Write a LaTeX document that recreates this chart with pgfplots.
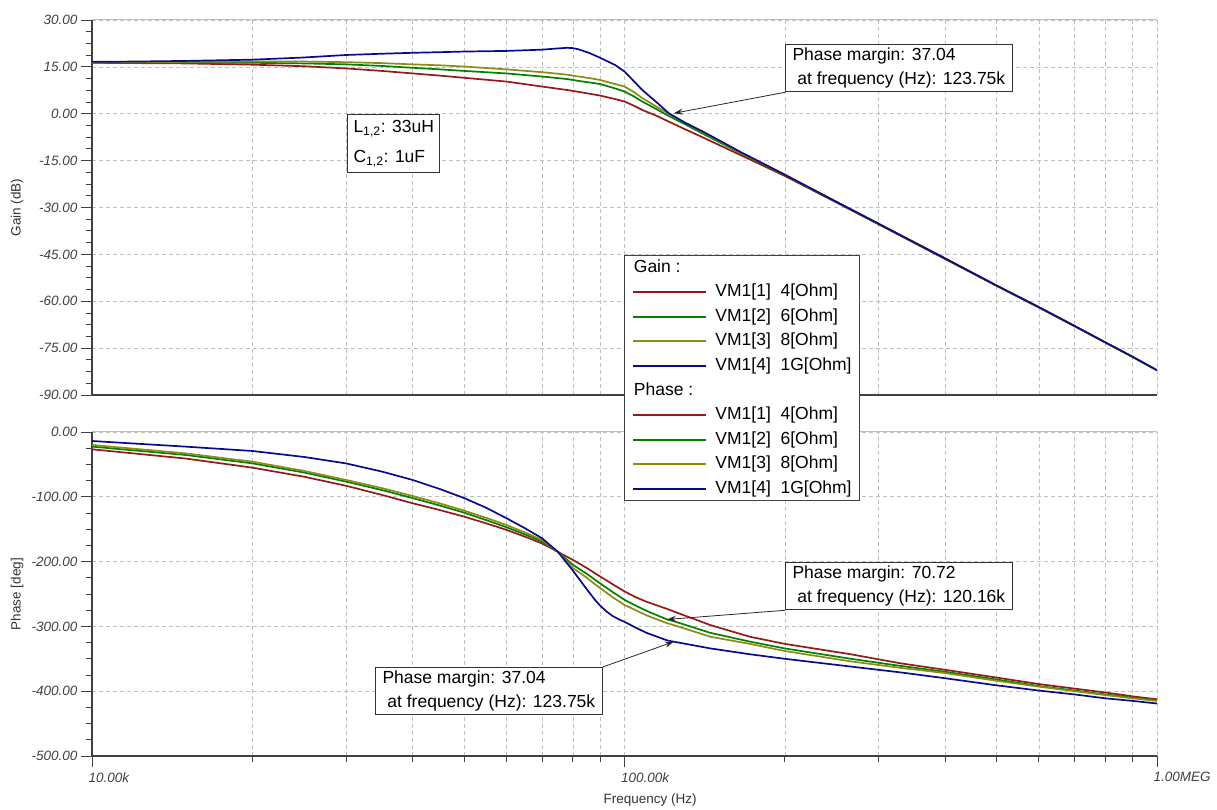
\documentclass[border=0pt]{standalone}
\usepackage{pgfplots}
\pgfplotsset{compat=1.18}
\usepackage{pgfplotstable}
\usepackage{fontspec}
\setmainfont{Liberation Sans}
\usetikzlibrary{arrows.meta}

\definecolor{cred}{RGB}{150,25,25}
\definecolor{cgreen}{RGB}{0,130,0}
\definecolor{colive}{RGB}{140,140,20}
\definecolor{cblue}{RGB}{10,10,140}

\pgfplotstableread{
f r g o b
10000 16.3 16.3 16.4 16.6
12000 16.2 16.3 16.5 16.7
15000 16.1 16.3 16.6 16.9
20000 15.7 16.3 16.7 17.3
25000 15.2 16.1 16.7 18.0
30000 14.5 15.8 16.5 18.8
35000 13.7 15.3 16.2 19.2
40000 12.9 14.7 15.8 19.5
45000 12.2 14.2 15.5 19.7
50000 11.5 13.7 15.1 19.9
60000 10.3 12.9 14.2 20.1
70000 8.7 11.9 13.3 20.5
75000 8.0 11.4 12.8 20.9
78000 7.6 11.1 12.5 21.1
80000 7.3 10.8 12.2 21.0
82000 7.0 10.5 11.9 20.6
86000 6.4 10.0 11.4 19.4
90000 5.8 9.5 10.8 17.9
96000 4.7 8.1 9.5 15.6
100000 3.9 7.1 8.7 13.5
104000 2.6 5.6 7.0 10.5
108000 1.2 3.9 5.0 7.6
115000 -0.7 1.4 2.2 3.6
121000 -2.5 -0.7 0.0 0.2
130000 -5.0 -3.4 -2.9 -2.9
140000 -7.5 -6.3 -5.8 -5.6
165000 -13.2 -12.6 -12.4 -12.2
200000 -19.9 -19.6 -19.5 -19.5
250000 -28.4 -28.2 -28.2 -28.2
300000 -35.4 -35.2 -35.2 -35.2
400000 -46.5 -46.3 -46.3 -46.3
500000 -55.1 -55.0 -55.0 -55.0
600000 -62.0 -61.9 -61.9 -61.9
700000 -68.0 -67.9 -67.9 -67.9
800000 -73.2 -73.2 -73.2 -73.2
900000 -77.8 -77.8 -77.8 -77.8
1000000 -82.1 -82.1 -82.1 -82.1
}\gaintab

\pgfplotstableread{
f r g o b
10000 -26.7 -22.6 -20.0 -13.9
15000 -41 -35.5 -33 -22.6
20000 -55 -48.4 -45.8 -29.3
25000 -69 -62.5 -60 -38.5
30000 -83 -76.6 -74 -48.5
35000 -97 -89.5 -86.5 -61
40000 -110 -102 -98.8 -74
45000 -120.5 -113.5 -110.2 -88
50000 -130.7 -124.5 -121.4 -102
55000 -141 -136 -132.5 -117
60000 -151 -147 -143.5 -133
65000 -161.5 -158 -155 -148.5
70000 -172 -169 -166.7 -164
75000 -185 -185 -185 -185
80000 -197.5 -205 -210 -214
85000 -210 -219 -225 -243
88000 -218 -228 -235 -259
90000 -223 -233.6 -241 -268
92500 -229 -240.5 -248 -277
95000 -235 -247 -255 -284
97500 -240.5 -253 -261 -289
100000 -246 -259 -267 -293
105000 -255 -268 -275 -302
110000 -262 -276 -283 -310
120160 -273 -289.3 -295 -321.5
123750 -277 -292 -298 -323.6
145000 -298 -310 -316 -334
172000 -316 -323.5 -327 -343
200000 -327 -334 -338 -350
266000 -343 -350 -354 -362
330000 -357 -361 -364 -371
400000 -367 -370 -372 -380
500000 -379 -382 -384 -391
600000 -389 -392 -393 -399
700000 -396 -399 -400 -405
800000 -402 -405 -406 -411
900000 -408 -410 -411 -415
1000000 -412.5 -414 -415 -419
}\phasetab

\begin{document}
\begin{tikzpicture}
\useasboundingbox (0pt,0pt) rectangle (1217pt,810pt);

% ---------------- Gain ----------------
\begin{axis}[
  scale only axis, width=1065pt, height=375pt,
  at={(92pt,415pt)}, anchor=south west,
  xmode=log, xmin=10000, xmax=1000000,
  axis x line=bottom, axis y line=left,
  axis line style={-, draw=black!75, line width=1.1pt},
  tick align=outside, major tick length=11pt, minor tick length=6pt,
  tick style={black!75, line width=0.9pt},
  major x tick style={draw=none}, minor x tick style={draw=none},
  xmajorgrids, xminorgrids, ymajorgrids,
  grid style={black!25, line width=0.6pt, dash pattern=on 4pt off 3pt},
  minor y tick num=3,
  tick label style={font=\fontsize{13.5}{16}\selectfont\itshape, text=black!75},
  label style={font=\fontsize{13.5}{16}\selectfont, text=black!80},
  ylabel style={at={(axis description cs:-0.0704,0.5)}, anchor=center},
  ymin=-90, ymax=30, ytick={-90,-75,...,30},
  yticklabels={-90.00,-75.00,-60.00,-45.00,-30.00,-15.00,0.00,15.00,30.00},
  xticklabels={},
  ylabel={Gain (dB)}]
\addplot[cred, line width=1.7pt]   table[x=f,y=r]{\gaintab};
\addplot[cgreen, line width=1.7pt] table[x=f,y=g]{\gaintab};
\addplot[colive, line width=1.7pt] table[x=f,y=o]{\gaintab};
\addplot[cblue, line width=1.7pt]  table[x=f,y=b]{\gaintab};
\draw[black!25, line width=1pt] (rel axis cs:0,1) -- (rel axis cs:1,1) -- (rel axis cs:1,0);
\coordinate (pmA) at (axis cs:123750,0.14);
\end{axis}

% ---------------- Phase ----------------
\begin{axis}[
  scale only axis, width=1065pt, height=324pt,
  at={(92pt,54pt)}, anchor=south west,
  xmode=log, xmin=10000, xmax=1000000,
  axis x line=bottom, axis y line=left,
  axis line style={-, draw=black!75, line width=1.1pt},
  tick align=outside, major tick length=11pt, minor tick length=6pt,
  tick style={black!75, line width=0.9pt},
  xmajorgrids, xminorgrids, ymajorgrids,
  grid style={black!25, line width=0.6pt, dash pattern=on 4pt off 3pt},
  minor y tick num=3,
  tick label style={font=\fontsize{13.5}{16}\selectfont\itshape, text=black!75},
  label style={font=\fontsize{13.5}{16}\selectfont, text=black!80},
  ylabel style={at={(axis description cs:-0.0704,0.5)}, anchor=center},
  ymin=-500, ymax=0, ytick={-500,-400,...,0},
  yticklabels={-500.00,-400.00,-300.00,-200.00,-100.00,0.00},
  xtick={10000,100000,1000000}, xticklabels={10.00k,100.00k,1.00MEG},
  xticklabel style={anchor=north west, xshift=-7pt, yshift=-2pt},
  xlabel={Frequency (Hz)},
  xlabel style={at={(axis description cs:0.524,0)}, anchor=center, yshift=-44pt},
  ylabel={Phase [deg]},
  legend image code/.code={\draw[#1, solid, line width=2pt] (0pt,0pt) -- (73pt,0pt);},
  legend style={at={(rel axis cs:0.4995,1.546)}, anchor=north west,
    draw=black!75, line width=0.9pt, fill=white,
    font=\fontsize{17.5}{20}\selectfont,
    inner xsep=8pt, inner ysep=3.5pt, column sep=8pt, row sep=7.6pt,
    nodes={inner sep=0pt, text height=13pt, text depth=4pt, anchor=west}},
  legend cell align=left]
\addlegendimage{legend image code/.code={\node[anchor=west,inner sep=0pt,font=\fontsize{17.5}{20}\selectfont] at (0pt,0pt) {Gain :};}}
\addlegendentry{}
\addlegendimage{cred}\addlegendentry{VM1[1]~~4[Ohm]}
\addlegendimage{cgreen}\addlegendentry{VM1[2]~~6[Ohm]}
\addlegendimage{colive}\addlegendentry{VM1[3]~~8[Ohm]}
\addlegendimage{cblue}\addlegendentry{VM1[4]~~1G[Ohm]}
\addlegendimage{legend image code/.code={\node[anchor=west,inner sep=0pt,font=\fontsize{17.5}{20}\selectfont] at (0pt,0pt) {Phase :};}}
\addlegendentry{}
\addplot[cred, line width=1.7pt]   table[x=f,y=r]{\phasetab}; \addlegendentry{VM1[1]~~4[Ohm]}
\addplot[cgreen, line width=1.7pt] table[x=f,y=g]{\phasetab}; \addlegendentry{VM1[2]~~6[Ohm]}
\addplot[colive, line width=1.7pt] table[x=f,y=o]{\phasetab}; \addlegendentry{VM1[3]~~8[Ohm]}
\addplot[cblue, line width=1.7pt]  table[x=f,y=b]{\phasetab}; \addlegendentry{VM1[4]~~1G[Ohm]}
\draw[black!25, line width=1pt] (rel axis cs:0,1) -- (rel axis cs:1,1) -- (rel axis cs:1,0);
\coordinate (pmB) at (axis cs:120160,-289.3);
\coordinate (pmC) at (axis cs:123750,-323.6);
\end{axis}

% ---------------- Annotations ----------------
\tikzset{pmbox/.style={draw=black!80, line width=1pt, fill=white, inner xsep=7pt, inner ysep=3.5pt,
  align=left, anchor=north west, font=\fontsize{17.5}{24}\selectfont},
  pmarrow/.style={-{Stealth[length=9pt,width=6pt]}, black!85, line width=0.8pt}}
\node[pmbox] (A) at (785pt,766pt) {Phase margin: 37.04\\\hspace*{0.28em}at frequency (Hz): 123.75k};
\draw[pmarrow] (A.south west) -- (pmA);
\node[pmbox] (B) at (785pt,248pt) {Phase margin: 70.72\\\hspace*{0.28em}at frequency (Hz): 120.16k};
\draw[pmarrow] (B.south west) -- (pmB);
\node[pmbox] (C) at (375pt,143pt) {Phase margin: 37.04\\\hspace*{0.28em}at frequency (Hz): 123.75k};
\draw[pmarrow] (C.north east) -- (pmC);
\node[draw=black!80, line width=1pt, fill=white, inner xsep=6pt, inner ysep=6pt, align=left,
  anchor=north west, font=\fontsize{17.5}{30}\selectfont] at (347pt,696pt)
  {L\textsubscript{1,2}: 33uH\\C\textsubscript{1,2}: 1uF};
\end{tikzpicture}
\end{document}
